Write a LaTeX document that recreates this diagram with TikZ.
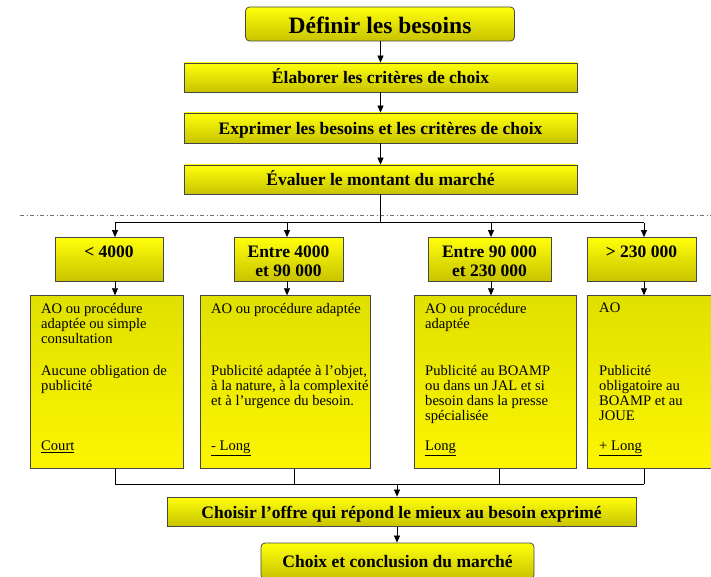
\documentclass[tikz,border=0pt]{standalone}
\usepackage{fontspec}
\setmainfont{Liberation Serif}
\usetikzlibrary{arrows.meta}
\definecolor{ytop}{RGB}{255,255,10}
\definecolor{ybot}{RGB}{200,195,0}
\definecolor{ctop}{RGB}{224,224,0}
\definecolor{cbot}{RGB}{252,246,0}
\definecolor{edge}{RGB}{70,70,70}
\tikzset{
  box/.style={draw=edge, line width=0.8pt, top color=ytop, bottom color=ybot, inner sep=0pt,
    text height=13pt, text depth=0.4pt,
    font=\fontsize{17.5}{19}\selectfont\bfseries},
  titlebox/.style={box, rounded corners=4pt, text height=20pt, text depth=0.4pt,
    font=\fontsize{23.5}{25}\selectfont\bfseries},
  rbox/.style={box},
  cbox/.style={draw=edge, line width=0.8pt, top color=ctop, bottom color=cbot, inner sep=0pt},
  rtxt/.style={anchor=north, inner sep=0pt, align=center, font=\fontsize{17.5}{19}\selectfont\bfseries},
  ctxt/.style={anchor=north west, inner sep=0pt, align=left, font=\fontsize{14.6}{15.2}\selectfont},
  conn/.style={draw=black, line width=0.7pt},
  arr/.style={conn, -{Triangle[length=7pt,width=6pt]}},
  sep/.style={draw=black!55, line width=0.6pt, dash pattern=on 4pt off 2.5pt on 1pt off 2.5pt}
}
\begin{document}
\begin{tikzpicture}[x=1pt,y=-1pt]
\path[use as bounding box, clip] (0,0) rectangle (711,577);
\fill[white] (0,0) rectangle (711,577);

% top chain
\node[titlebox, minimum width=269pt, minimum height=34pt] (t) at (380,24) {Définir les besoins};
\node[box, minimum width=393pt, minimum height=29pt] (b1) at (380.5,77.5) {Élaborer les critères de choix};
\node[box, minimum width=393pt, minimum height=30pt] (b2) at (380.5,128) {Exprimer les besoins et les critères de choix};
\node[box, minimum width=393pt, minimum height=29pt] (b3) at (380.5,179.5) {Évaluer le montant du marché};

\draw[arr] (t.south -| b1.north) -- (b1.north);
\draw[arr] (b1) -- (b2);
\draw[arr] (b2) -- (b3);

% separator
\coordinate (s1) at (20,215);
\coordinate (s2) at (711,215);
\draw[sep] (s1) -- (s2);

% distribution
\coordinate (j) at (380,222.5);
\coordinate (h1) at (115,222.5);
\coordinate (h2) at (287,222.5);
\coordinate (h3) at (491,222.5);
\coordinate (h4) at (644,222.5);
\draw[conn] (b3.south -| j) -- (j);
\draw[conn] (h1) -- (h4);

% range boxes
\node[rbox, minimum width=108pt, minimum height=43.5pt] (r1) at (109,259.25) {};
\node[rbox, minimum width=109pt, minimum height=43.5pt] (r2) at (288.5,259.25) {};
\node[rbox, minimum width=123pt, minimum height=43.5pt] (r3) at (489.5,259.25) {};
\node[rbox, minimum width=109pt, minimum height=43.5pt] (r4) at (641.5,259.25) {};
\node[rtxt] (rt1) at (109,246) {< 4000};
\node[rtxt] (rt2) at (288.5,246) {Entre 4000\\et 90~000};
\node[rtxt] (rt3) at (489.5,246) {Entre 90~000\\et 230~000};
\node[rtxt] (rt4) at (641.5,246) {> 230~000};

\draw[arr] (h1) -- (r1.north -| h1);
\draw[arr] (h2) -- (r2.north -| h2);
\draw[arr] (h3) -- (r3.north -| h3);
\draw[arr] (h4) -- (r4.north -| h4);

% content boxes
\node[cbox, minimum width=153pt, minimum height=173pt] (c1) at (106.5,382.2) {};
\node[cbox, minimum width=170pt, minimum height=173pt] (c2) at (285,382.2) {};
\node[cbox, minimum width=162pt, minimum height=173pt] (c3) at (495,382.2) {};
\node[cbox, minimum width=138pt, minimum height=173pt] (c4) at (656,382.2) {};

\draw[arr] (r1.south -| h1) -- (c1.north -| h1);
\draw[arr] (r2.south -| h2) -- (c2.north -| h2);
\draw[arr] (r3.south -| h3) -- (c3.north -| h3);
\draw[arr] (r4.south -| h4) -- (c4.north -| h4);

% content texts
\node[ctxt] (p1a) at (41,303) {AO ou procédure\\adaptée ou simple\\consultation};
\node[ctxt] (p1b) at (41,365) {Aucune obligation de\\publicité};
\node[ctxt] (p1c) at (41,441) {\underline{Court}};

\node[ctxt] (p2a) at (211,303) {AO ou procédure adaptée};
\node[ctxt] (p2b) at (211,365) {Publicité adaptée à l’objet,\\à la nature, à la complexité\\et à l’urgence du besoin.};
\node[ctxt] (p2c) at (211,441) {\underline{- Long}};

\node[ctxt] (p3a) at (425,303) {AO ou procédure\\adaptée};
\node[ctxt] (p3b) at (425,365) {Publicité au BOAMP\\ou dans un JAL et si\\besoin dans la presse\\spécialisée};
\node[ctxt] (p3c) at (425,441) {\underline{Long}};

\node[ctxt] (p4a) at (599,303) {AO};
\node[ctxt] (p4b) at (599,365) {Publicité\\obligatoire au\\BOAMP et au\\JOUE};
\node[ctxt] (p4c) at (599,441) {\underline{+ Long}};

% gathering
\coordinate (k1) at (115,484);
\coordinate (k2) at (294,484);
\coordinate (k3) at (499,484);
\coordinate (k4) at (644,484);
\coordinate (m) at (397,484);
\draw[conn] (c1.south -| k1) -- (k1);
\draw[conn] (c2.south -| k2) -- (k2);
\draw[conn] (c3.south -| k3) -- (k3);
\draw[conn] (c4.south -| k4) -- (k4);
\draw[conn] (k1) -- (k4);

\node[box, minimum width=469pt, minimum height=29.5pt] (d) at (401.5,511.75) {Choisir l’offre qui répond le mieux au besoin exprimé};
\node[box, rounded corners=4pt, minimum width=273pt, minimum height=36pt] (e) at (397.5,561) {Choix et conclusion du marché};

\draw[arr] (m) -- (d.north -| m);
\draw[arr] (d.south -| m) -- (e.north -| m);
\end{tikzpicture}
\end{document}
